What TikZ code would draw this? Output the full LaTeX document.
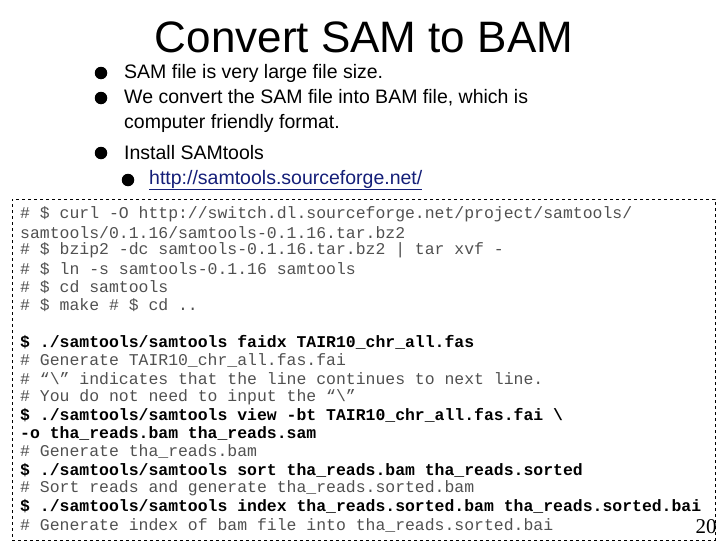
\documentclass[tikz,border=0pt]{standalone}
\usepackage{fontspec}
\setmainfont{Liberation Sans}
\setmonofont{Liberation Mono}
\newfontfamily\pagefont{Liberation Serif}
\usetikzlibrary{positioning}
\definecolor{cmtgray}{RGB}{80,80,80}
\definecolor{linkblue}{RGB}{20,30,120}
\begin{document}
\begin{tikzpicture}[x=1pt,y=-1pt,
title/.style={font=\fontsize{44}{46}\selectfont},
bul/.style={anchor=west, inner sep=0pt, font=\fontsize{19.5}{25}\selectfont},
dot/.style={circle, fill=black, inner sep=0pt, minimum size=12.5pt},
cmt/.style={anchor=west, inner sep=0pt, font=\ttfamily\fontsize{16.45}{18}\selectfont, text=cmtgray},
cmd/.style={cmt, font=\ttfamily\bfseries\fontsize{16.45}{18}\selectfont, text=black},
]
\useasboundingbox (0,0) rectangle (728,546);
\node[title] (heading) at (364,37) {Convert SAM to BAM};
% bullets
\node[dot] (d1) at (101,73) {};
\node[bul] (b1) at (124,73) {SAM file is very large file size.};
\node[dot] (d2) at (101,98) {};
\node[bul] (b2) at (124,98) {We convert the SAM file into BAM file, which is};
\node[bul] (b2b) at (124,123) {computer friendly format.};
\node[dot] (d3) at (101,153) {};
\node[bul] (b3) at (124,153) {Install SAMtools};
\node[dot] (d4) at (128,180) {};
\node[bul, text=linkblue] (b4) at (149,180) {\underline{http://samtools.sourceforge.net/}};
% code box
\node[draw, dashed, minimum width=703pt, minimum height=341pt, anchor=north west] (codebox) at (12,199) {};
\node[cmt] (l1) at (20,214) {\# \$ curl -O http://switch.dl.sourceforge.net/project/samtools/};
\node[cmt] (l2) at (20,232.3) {samtools/0.1.16/samtools-0.1.16.tar.bz2};
\node[cmt] (l3) at (20,250.6) {\# \$ bzip2 -dc samtools-0.1.16.tar.bz2 | tar xvf -};
\node[cmt] (l4) at (20,268.9) {\# \$ ln -s samtools-0.1.16 samtools};
\node[cmt] (l5) at (20,287.2) {\# \$ cd samtools};
\node[cmt] (l6) at (20,305.5) {\# \$ make \# \$ cd ..};
\node[cmd] (l8) at (20,342.1) {\$ ./samtools/samtools faidx TAIR10\_chr\_all.fas};
\node[cmt] (l9) at (20,360.4) {\# Generate TAIR10\_chr\_all.fas.fai};
\node[cmt] (l10) at (20,378.7) {\# “\textbackslash” indicates that the line continues to next line.};
\node[cmt] (l11) at (20,397) {\# You do not need to input the “\textbackslash”};
\node[cmd] (l12) at (20,415.3) {\$ ./samtools/samtools view -bt TAIR10\_chr\_all.fas.fai \textbackslash};
\node[cmd] (l13) at (20,433.6) {-o tha\_reads.bam tha\_reads.sam};
\node[cmt] (l14) at (20,451.9) {\# Generate tha\_reads.bam};
\node[cmd] (l15) at (20,470.2) {\$ ./samtools/samtools sort tha\_reads.bam tha\_reads.sorted};
\node[cmt] (l16) at (20,488.5) {\# Sort reads and generate tha\_reads.sorted.bam};
\node[cmd] (l17) at (20,506.8) {\$ ./samtools/samtools index tha\_reads.sorted.bam tha\_reads.sorted.bai};
\node[cmt] (l18) at (20,525.1) {\# Generate index of bam file into tha\_reads.sorted.bai};
\node[font=\pagefont\fontsize{21}{21}\selectfont, inner sep=0pt] (pagenum) at (706,527) {20};
\end{tikzpicture}
\end{document}
